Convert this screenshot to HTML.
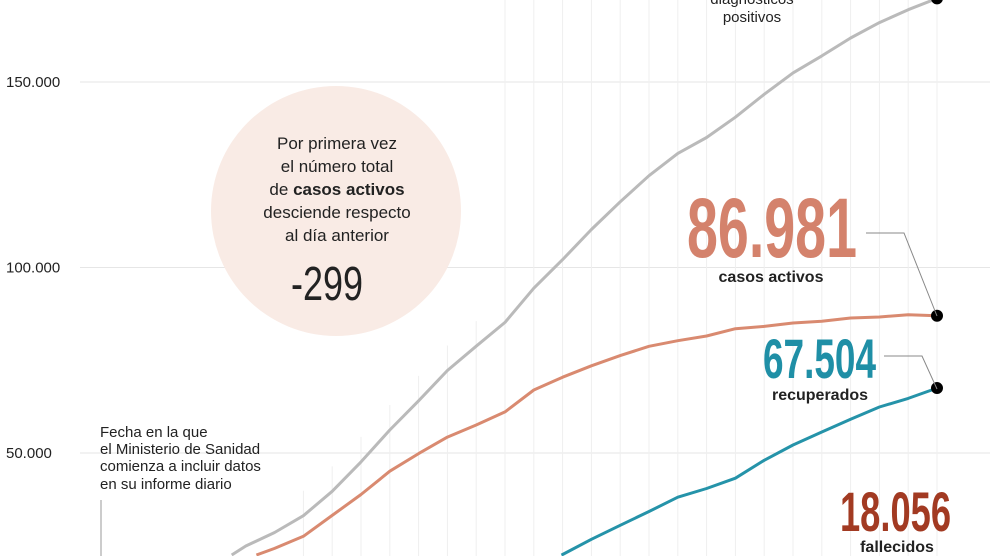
<!DOCTYPE html>
<html><head><meta charset="utf-8"><style>
html,body{margin:0;padding:0;background:#fff;width:990px;height:556px;overflow:hidden;}
svg{display:block;font-family:"Liberation Sans",sans-serif;overflow:hidden;}
</style></head><body>
<svg id="chart" width="990" height="556" viewBox="0 0 990 556">
<defs><clipPath id="frame"><rect x="0" y="0" width="990" height="556"/></clipPath></defs>
<g id="grid"></g>
<circle cx="336" cy="211" r="125" fill="#f9ebe5"/>
<g id="yaxis"></g>
<g id="lines" clip-path="url(#frame)"></g>
<g font-size="17" fill="#222" text-anchor="middle">
<text x="337" y="149">Por primera vez</text>
<text x="337" y="172">el número total</text>
<text x="337" y="195">de <tspan font-weight="bold">casos activos</tspan></text>
<text x="337" y="218">desciende respecto</text>
<text x="337" y="241">al día anterior</text>
<text x="327" y="300" font-family="'Liberation Sans Narrow','Liberation Sans',sans-serif" font-size="48" textLength="72" lengthAdjust="spacingAndGlyphs">-299</text>
</g>
<g font-size="15" fill="#222">
<text x="100" y="437">Fecha en la que</text>
<text x="100" y="454">el Ministerio de Sanidad</text>
<text x="100" y="471">comienza a incluir datos</text>
<text x="100" y="489">en su informe diario</text>
<line x1="101" y1="500" x2="101" y2="556" stroke="#999" stroke-width="1"/>
</g>
<g font-size="15" fill="#222" text-anchor="middle">
<text x="752" y="4">diagnósticos</text>
<text x="752" y="22">positivos</text>
</g>
<g>
<text x="687" y="257" font-family="'Liberation Sans Narrow','Liberation Sans',sans-serif" font-weight="bold" font-size="84" fill="#d4826c" textLength="170" lengthAdjust="spacingAndGlyphs">86.981</text>
<text x="771" y="282" font-size="16" font-weight="bold" fill="#222" text-anchor="middle">casos activos</text>
<polyline points="866,233 904,233 937,316" fill="none" stroke="#888" stroke-width="1"/>
</g>
<g>
<text x="763" y="378" font-family="'Liberation Sans Narrow','Liberation Sans',sans-serif" font-weight="bold" font-size="56" fill="#1f8fa6" textLength="113" lengthAdjust="spacingAndGlyphs">67.504</text>
<text x="820" y="400" font-size="16" font-weight="bold" fill="#222" text-anchor="middle">recuperados</text>
<polyline points="884,356 922,356 937,389" fill="none" stroke="#888" stroke-width="1"/>
</g>
<g>
<text x="840" y="531" font-family="'Liberation Sans Narrow','Liberation Sans',sans-serif" font-weight="bold" font-size="56" fill="#a23a22" textLength="111" lengthAdjust="spacingAndGlyphs">18.056</text>
<text x="897" y="552" font-size="16" font-weight="bold" fill="#222" text-anchor="middle">fallecidos</text>
</g>
</svg>
<script>
const dates=["18-mar","19-mar","20-mar","21-mar","22-mar","23-mar","24-mar","25-mar","26-mar","27-mar","28-mar","29-mar","30-mar","31-mar","1-abr","2-abr","3-abr","4-abr","5-abr","6-abr","7-abr","8-abr","9-abr","10-abr","11-abr","12-abr","13-abr","14-abr"];
const totalCases=[13716,17147,19980,24926,28572,33089,39673,47610,56188,64059,72248,78797,85195,94417,102136,110238,117710,124736,130759,135032,140510,146690,152446,157022,161852,166019,169496,172541];
const recovered=[1081,1107,1588,2125,2575,3355,3794,5367,7015,9357,12285,14709,16780,19259,22647,26743,30513,34219,38080,40437,43208,48021,52165,55668,59109,62391,64727,67504];
const deaths=[598,767,1002,1326,1720,2182,2696,3434,4089,4858,5690,6528,7340,8189,9053,10003,10935,11744,12418,13055,13798,14555,15238,15843,16353,16972,17489,18056];
const yTicks=[50000,100000,150000];
const yTickLabels=["50.000","100.000","150.000"];

const NS="http://www.w3.org/2000/svg";
const active=totalCases.map((t,i)=>t-recovered[i]-deaths[i]);
const n=dates.length;
const BOTTOM=555;
function x(i){return 937-(n-1-i)*28.8;}
function y(v){return 638.5-v*0.00371;}
function mk(tag,attrs,parent){const e=document.createElementNS(NS,tag);for(const k in attrs)e.setAttribute(k,attrs[k]);parent.appendChild(e);return e;}

const grid=document.getElementById('grid');
yTicks.forEach((t,i)=>{
  const l=mk('line',{x1:80,x2:990,y1:y(t),y2:y(t),stroke:'#e6e6e6','stroke-width':1},grid);
  
  
});
for(let i=5;i<n;i++){
  const xx=x(i);
  const top=xx<490?Math.max(0,y(totalCases[i])-25):0;
  const l=mk('line',{x1:xx,x2:xx,y1:top,y2:556,stroke:'#efefef','stroke-width':1},grid);
  
  
}
const ya=document.getElementById('yaxis');
yTicks.forEach((t,i)=>{
  const tx=mk('text',{x:6,y:y(t)+5,'font-size':15,fill:'#222'},ya);
  tx.textContent=yTickLabels[i];
  
  
});
const lines=document.getElementById('lines');
function clippedPoints(arr){
  const out=[];
  for(let i=0;i<arr.length;i++){
    const x1=x(i),y1=y(arr[i]);
    if(i>0){
      const x0=x(i-1),y0=y(arr[i-1]);
      if((y0>BOTTOM)!==(y1>BOTTOM)){
        const t=(BOTTOM-y0)/(y1-y0);
        out.push([x0+t*(x1-x0),BOTTOM]);
      }
    }
    if(y1<=BOTTOM)out.push([x1,y1]);
  }
  return out;
}
function series(arr,color,name){
  const pts=clippedPoints(arr).map(p=>p[0].toFixed(1)+','+p[1].toFixed(1)).join(' ');
  const p=mk('polyline',{points:pts,fill:'none',stroke:color,'stroke-width':3,'stroke-linejoin':'round'},lines);
  
  
  const cy=y(arr[n-1]);
  if(cy<=BOTTOM-6){
    const d=mk('circle',{cx:x(n-1),cy:cy,r:6,fill:'#000'},lines);
    
    
  }
}
series(deaths,'#a23a22','deaths-line');
series(recovered,'#2593a9','recovered-line');
series(active,'#d98a70','active-line');
series(totalCases,'#bababa','total-cases-line');
</script>
</body></html>
